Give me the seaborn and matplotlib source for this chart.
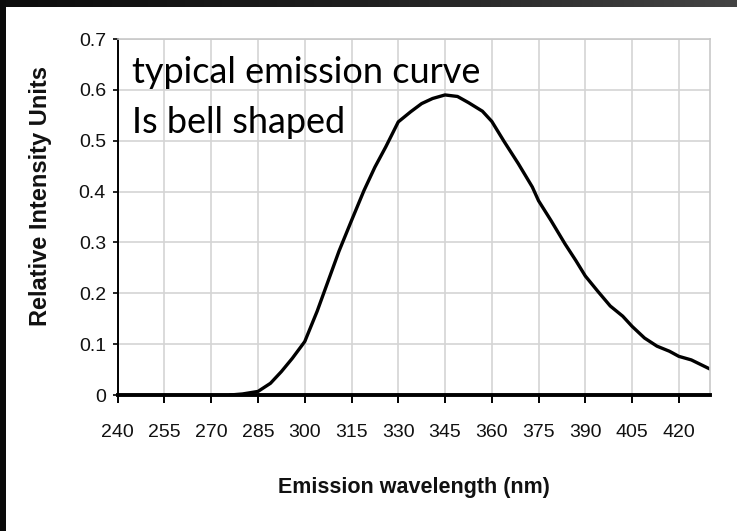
import numpy as np
import pandas as pd
import matplotlib
matplotlib.use("Agg")
import matplotlib.pyplot as plt
import seaborn as sns

# ---- data ----
wavelength = [276, 280, 285, 289, 292.5, 296, 300, 304, 307.5, 311, 315, 319, 322.5, 326,
              330, 334, 337.5, 341, 345, 349, 352.5, 357, 360, 364, 368.5, 373, 375, 379,
              383.5, 387, 390, 394, 398, 402, 405, 409, 413, 417, 420, 424, 430]
intensity = [0.0, 0.002, 0.007, 0.023, 0.046, 0.072, 0.105, 0.165, 0.224, 0.283, 0.343, 0.402,
             0.448, 0.488, 0.537, 0.557, 0.573, 0.583, 0.590, 0.587, 0.575, 0.558, 0.538,
             0.498, 0.455, 0.409, 0.382, 0.343, 0.297, 0.264, 0.234, 0.204, 0.175, 0.155,
             0.135, 0.112, 0.096, 0.086, 0.076, 0.069, 0.051]
x_ticks = [240, 255, 270, 285, 300, 315, 330, 345, 360, 375, 390, 405, 420]
y_ticks = [0, 0.1, 0.2, 0.3, 0.4, 0.5, 0.6, 0.7]
y_tick_labels = ["0", "0.1", "0.2", "0.3", "0.4", "0.5", "0.6", "0.7"]
x_label = "Emission wavelength (nm)"
y_label = "Relative Intensity Units"
note_lines = ["typical emission curve", "Is bell shaped"]

df = pd.DataFrame({"wavelength": wavelength, "intensity": intensity})

sns.set_style("white")
arial = ["Liberation Sans", "DejaVu Sans"]

W, H = 737, 531
fig = plt.figure(figsize=(W / 100, H / 100), dpi=100)
fig.patch.set_facecolor("white")

# dark frame bands (top gradient, left black)
top = fig.add_axes([0, 1 - 7 / H, 1, 7 / H])
grad = np.linspace(0, 1, 256).reshape(1, -1)
top.imshow(grad, aspect="auto", cmap=matplotlib.colors.LinearSegmentedColormap.from_list(
    "g", ["#0c0c0c", "#202020", "#444444"]), extent=[0, 1, 0, 1])
top.set_axis_off()
left = fig.add_axes([0, 0, 6 / W, 1])
left.set_facecolor("#0a0a0a")
left.set_xticks([]); left.set_yticks([])
for s in left.spines.values():
    s.set_visible(False)

ax = fig.add_axes([117.7 / W, (H - 395) / H, (710 - 117.7) / W, (395 - 39) / H])
sns.lineplot(data=df, x="wavelength", y="intensity", ax=ax, color="black", linewidth=2.4)

ax.set_xlim(240, 430)
ax.set_ylim(0, 0.7)
ax.set_xticks(x_ticks)
ax.set_yticks(y_ticks)
ax.set_yticklabels(y_tick_labels)
ax.grid(True, color="#d4d4d4", linewidth=1.2)
ax.set_axisbelow(True)

for side in ["top", "right"]:
    ax.spines[side].set_color("#c8c8c8")
    ax.spines[side].set_linewidth(1.2)
ax.spines["left"].set_color("black")
ax.spines["left"].set_linewidth(1.4)
ax.spines["bottom"].set_color("black")
ax.spines["bottom"].set_linewidth(2.8)

ax.tick_params(axis="x", direction="out", length=6, width=1.4, color="black", pad=15,
               bottom=True)
ax.tick_params(axis="y", direction="out", length=3.5, width=1.2, color="black", pad=5,
               left=True)
for lab in ax.get_xticklabels() + ax.get_yticklabels():
    lab.set_family(arial)
    lab.set_fontsize(14)
    lab.set_color("#111111")

ax.set_xlabel(x_label, family=arial, fontweight="bold", fontsize=15.5, color="#111111",
              va="top", ha="center")
ax.xaxis.set_label_coords(0.5, (395 - 477) / 356)
ax.set_ylabel(y_label, family=arial, fontweight="bold", fontsize=17, color="#111111",
              rotation=90, va="center", ha="center")
ax.yaxis.label.set_rotation_mode("default")
ax.yaxis.set_label_coords((41 - 117.7) / 592.3, (395 - 196) / 356)

fig.text(132 / W, 1 - 83 / H, note_lines[0], family=["Lato", "DejaVu Sans"], fontsize=26,
         color="black", va="baseline", ha="left")
fig.text(132 / W, 1 - 133 / H, note_lines[1], family=["Lato", "DejaVu Sans"], fontsize=26,
         color="black", va="baseline", ha="left")

fig.savefig("out.png", dpi=100, facecolor="white")
